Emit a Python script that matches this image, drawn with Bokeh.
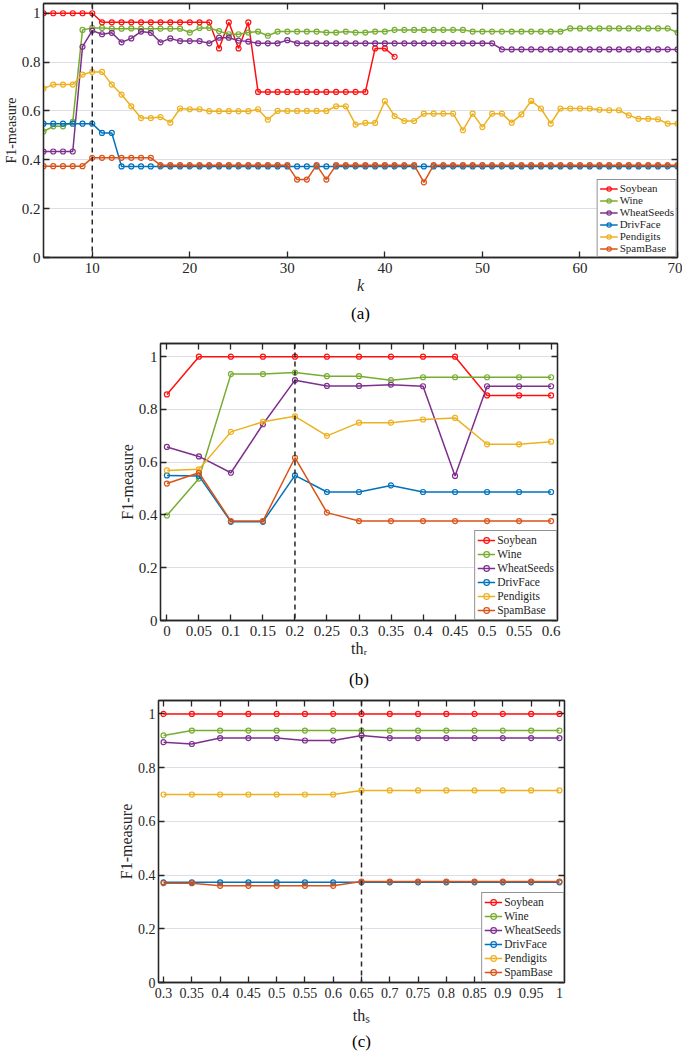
from bokeh.plotting import figure
from bokeh.models import Range1d, LinearAxis, FixedTicker, Span, Title
from bokeh.embed import file_html
from bokeh.resources import INLINE

FONT = "Liberation Serif"
AX = "#262626"

names = ["Soybean", "Wine", "WheatSeeds", "DrivFace", "Pendigits", "SpamBase"]
colors = ["#ff1010", "#77ac30", "#7e2f8e", "#0072bd", "#edb120", "#d95319"]

# ---------------- panel (a): F1 vs k ----------------
k = list(range(5, 71))
soy_a = [1.0, 1.0, 1.0, 1.0, 1.0, 1.0,
         0.963, 0.963, 0.963, 0.963, 0.963, 0.963, 0.963, 0.963, 0.963, 0.963, 0.963, 0.963,
         0.856, 0.963, 0.856, 0.963,
         0.678, 0.678, 0.678, 0.678, 0.678, 0.678, 0.678, 0.678, 0.678, 0.678, 0.678, 0.678,
         0.856, 0.856, 0.822]
wine_a = [0.516, 0.537, 0.537, 0.555, 0.932, 0.940, 0.940, 0.937, 0.937, 0.938,
          0.937, 0.937, 0.937, 0.937, 0.937, 0.921, 0.940, 0.940, 0.927, 0.914,
          0.914, 0.921, 0.925, 0.908, 0.925, 0.925, 0.925, 0.925, 0.925, 0.921,
          0.921, 0.925, 0.921, 0.921, 0.925, 0.925,
          0.932, 0.932, 0.932, 0.932, 0.932, 0.932, 0.932, 0.932,
          0.925, 0.925, 0.925, 0.925, 0.925, 0.925, 0.925, 0.925, 0.925, 0.925,
          0.938, 0.938, 0.938, 0.938, 0.938, 0.938, 0.938, 0.938, 0.938, 0.938, 0.938,
          0.921]
wheat_a = [0.434, 0.434, 0.434, 0.434, 0.863, 0.929, 0.914, 0.920, 0.881, 0.897,
           0.925, 0.920, 0.881, 0.897, 0.886, 0.886, 0.886, 0.877, 0.900, 0.900,
           0.888, 0.884, 0.877, 0.877, 0.877, 0.890,
           0.877, 0.877, 0.877, 0.877, 0.877, 0.877, 0.877, 0.877, 0.877, 0.877,
           0.877, 0.877, 0.877, 0.877, 0.877, 0.877, 0.877, 0.877, 0.877, 0.877, 0.877,
           0.852, 0.852, 0.852, 0.852, 0.852, 0.852, 0.852, 0.852, 0.852, 0.852,
           0.852, 0.852, 0.852, 0.852, 0.852, 0.852, 0.852, 0.852, 0.852]
driv_a = [0.548, 0.548, 0.548, 0.548, 0.548, 0.548, 0.510, 0.510,
          0.373, 0.373, 0.373, 0.373, 0.373, 0.373, 0.373, 0.373, 0.373, 0.373,
          0.373, 0.373, 0.373, 0.373, 0.373, 0.373, 0.373, 0.373, 0.373, 0.373,
          0.373, 0.373, 0.373, 0.373, 0.373, 0.373, 0.373, 0.373, 0.373, 0.373,
          0.373, 0.373, 0.373, 0.373, 0.373, 0.373, 0.373, 0.373, 0.373, 0.373,
          0.373, 0.373, 0.373, 0.373, 0.373, 0.373, 0.373, 0.373, 0.373, 0.373,
          0.373, 0.373, 0.373, 0.373, 0.373, 0.373, 0.373, 0.373]
pend_a = [0.692, 0.708, 0.708, 0.708, 0.749, 0.760, 0.760, 0.708, 0.667, 0.619,
          0.571, 0.571, 0.575, 0.552, 0.610, 0.607, 0.607, 0.599, 0.599, 0.599,
          0.599, 0.599, 0.607, 0.564, 0.600, 0.600, 0.600, 0.600, 0.600, 0.600,
          0.619, 0.619, 0.544, 0.551, 0.551, 0.640, 0.579, 0.559, 0.559, 0.589,
          0.589, 0.589, 0.589, 0.521, 0.589, 0.534, 0.589, 0.589, 0.552, 0.586,
          0.641, 0.610, 0.548, 0.610, 0.610, 0.610, 0.610, 0.605, 0.603, 0.603,
          0.582, 0.568, 0.568, 0.566, 0.548, 0.548]
spam_a = [0.374, 0.374, 0.374, 0.374, 0.374,
          0.408, 0.408, 0.408, 0.408, 0.408, 0.408, 0.408,
          0.378, 0.378, 0.378, 0.378, 0.378, 0.378, 0.378, 0.378, 0.378, 0.378,
          0.378, 0.378, 0.378, 0.378,
          0.319, 0.319, 0.378, 0.319,
          0.378, 0.378, 0.378, 0.378, 0.378, 0.378, 0.378, 0.378, 0.378,
          0.308,
          0.378, 0.378, 0.378, 0.378, 0.378, 0.378, 0.378, 0.378, 0.378, 0.378,
          0.378, 0.378, 0.378, 0.378, 0.378, 0.378, 0.378, 0.378, 0.378, 0.378,
          0.378, 0.378, 0.378, 0.378, 0.378, 0.378]
ticks_a = [10, 20, 30, 40, 50, 60, 70]
labels_a = ["10", "20", "30", "40", "50", "60", "70"]

# ---------------- panel (b): F1 vs th_r ----------------
thr = [0, 0.05, 0.1, 0.15, 0.2, 0.25, 0.3, 0.35, 0.4, 0.45, 0.5, 0.55, 0.6]
thr_labels = ["0", "0.05", "0.1", "0.15", "0.2", "0.25", "0.3", "0.35", "0.4", "0.45", "0.5", "0.55", "0.6"]
soy_b = [0.857, 1, 1, 1, 1, 1, 1, 1, 1, 1, 0.853, 0.853, 0.853]
wine_b = [0.398, 0.538, 0.934, 0.934, 0.940, 0.926, 0.926, 0.911, 0.922, 0.922, 0.922, 0.922, 0.922]
wheat_b = [0.658, 0.622, 0.560, 0.744, 0.911, 0.889, 0.889, 0.894, 0.888, 0.548, 0.888, 0.888, 0.888]
driv_b = [0.550, 0.548, 0.374, 0.374, 0.550, 0.487, 0.487, 0.512, 0.487, 0.487, 0.487, 0.487, 0.487]
pend_b = [0.569, 0.573, 0.715, 0.753, 0.774, 0.700, 0.750, 0.750, 0.762, 0.768, 0.668, 0.668, 0.678]
spam_b = [0.519, 0.560, 0.377, 0.377, 0.617, 0.409, 0.377, 0.377, 0.377, 0.377, 0.377, 0.377, 0.377]

# ---------------- panel (c): F1 vs th_s ----------------
ths = [0.3, 0.35, 0.4, 0.45, 0.5, 0.55, 0.6, 0.65, 0.7, 0.75, 0.8, 0.85, 0.9, 0.95, 1]
ths_labels = ["0.3", "0.35", "0.4", "0.45", "0.5", "0.55", "0.6", "0.65", "0.7", "0.75", "0.8", "0.85", "0.9", "0.95", "1"]
soy_c = [1, 1, 1, 1, 1, 1, 1, 1, 1, 1, 1, 1, 1, 1, 1]
wine_c = [0.920, 0.938, 0.938, 0.938, 0.938, 0.938, 0.938, 0.938, 0.938, 0.938, 0.938, 0.938, 0.938, 0.938, 0.938]
wheat_c = [0.895, 0.888, 0.910, 0.910, 0.910, 0.901, 0.901, 0.920, 0.910, 0.910, 0.910, 0.910, 0.910, 0.910, 0.910]
driv_c = [0.373, 0.373, 0.373, 0.373, 0.373, 0.373, 0.373, 0.373, 0.373, 0.373, 0.373, 0.373, 0.373, 0.373, 0.373]
pend_c = [0.700, 0.700, 0.700, 0.700, 0.700, 0.700, 0.700, 0.715, 0.715, 0.715, 0.715, 0.715, 0.715, 0.715, 0.715]
spam_c = [0.370, 0.370, 0.360, 0.360, 0.360, 0.360, 0.360, 0.376, 0.376, 0.376, 0.376, 0.376, 0.376, 0.376, 0.376]

y_ticks = [0, 0.2, 0.4, 0.6, 0.8, 1]
y_labels = ["0", "0.2", "0.4", "0.6", "0.8", "1"]


def style_axis(ax, ticks, labels, fs, hidden=False):
    ax.ticker = FixedTicker(ticks=ticks)
    ax.axis_line_color = AX
    ax.axis_line_width = 1.3
    ax.major_tick_line_color = AX
    ax.major_tick_line_width = 1.3
    ax.major_tick_in = 6
    ax.major_tick_out = 0
    ax.minor_tick_line_color = None
    if hidden:
        ax.major_label_text_font_size = "0px"
        ax.major_label_standoff = 0
        ax.major_label_overrides = {t: "" for t in ticks}
    else:
        ax.major_label_overrides = dict(zip(ticks, labels))
        ax.major_label_text_font = FONT
        ax.major_label_text_font_size = fs
        ax.major_label_text_color = AX


def make_panel(xr, yr, fw, fh, bl, br, bt, bb, xticks, xlabels, tick_fs,
               xlabel, xlabel_style, xlabel_standoff, ylabel_fs, caption, cap_standoff,
               xs_list, ys_list, span_loc, legend_fs, legend_row):
    p = figure(frame_width=fw, frame_height=fh, x_range=Range1d(*xr), y_range=Range1d(*yr),
               output_backend="svg", toolbar_location=None,
               min_border_left=bl, min_border_right=br, min_border_top=bt, min_border_bottom=bb)
    p.background_fill_color = "white"
    p.border_fill_color = "white"
    p.outline_line_color = AX
    p.outline_line_width = 1.3
    p.xgrid.grid_line_color = None
    p.ygrid.grid_line_color = "#dedee8"
    p.ygrid.grid_line_width = 1.2

    style_axis(p.xaxis[0], xticks, xlabels, tick_fs)
    style_axis(p.yaxis[0], y_ticks, y_labels, tick_fs)
    p.xaxis.major_label_standoff = 5
    p.yaxis.major_label_standoff = 3
    p.xaxis.axis_label = xlabel
    p.xaxis.axis_label_text_font = FONT
    p.xaxis.axis_label_text_font_size = "16px"
    p.xaxis.axis_label_text_font_style = xlabel_style
    p.xaxis.axis_label_text_color = AX
    p.xaxis.axis_label_standoff = xlabel_standoff
    p.yaxis.axis_label = "F1-measure"
    p.yaxis.axis_label_text_font = FONT
    p.yaxis.axis_label_text_font_size = ylabel_fs
    p.yaxis.axis_label_text_font_style = "normal"
    p.yaxis.axis_label_text_color = AX
    p.yaxis.axis_label_standoff = 0

    top = LinearAxis()
    style_axis(top, xticks, xlabels, tick_fs, hidden=True)
    p.add_layout(top, "above")
    right = LinearAxis()
    style_axis(right, y_ticks, y_labels, tick_fs, hidden=True)
    p.add_layout(right, "right")

    for name, c, xs, ys in zip(names, colors, xs_list, ys_list):
        p.line(xs, ys, line_color=c, line_width=1.5, legend_label=name)
        p.scatter(xs, ys, marker="circle", size=5, line_color=c, fill_color=None,
                  line_width=1.2, legend_label=name)

    p.add_layout(Span(location=span_loc, dimension="height", line_color=AX,
                      line_dash="5 4", line_width=1.5))

    lg = p.legend[0]
    lg.location = "bottom_right"
    lg.margin = 0
    lg.padding = 2
    lg.spacing = 0
    lg.label_text_font = FONT
    lg.label_text_font_size = legend_fs
    lg.label_text_color = AX
    lg.label_height = legend_row
    lg.glyph_height = legend_row
    lg.glyph_width = 18
    lg.label_standoff = 2
    lg.border_line_color = AX
    lg.border_line_width = 1.2
    lg.background_fill_color = "white"
    lg.background_fill_alpha = 1

    p.add_layout(Title(text=caption, align="center", text_font=FONT, text_font_size="17px",
                       text_font_style="normal", text_color="black", standoff=cap_standoff), "below")
    return p


pa = make_panel((5, 70), (0, 1.04), 634, 254, 42, 5, 3, 73, ticks_a, labels_a, "15px",
                "k", "italic", 1, "14px", "(a)", 10,
                [k[:len(soy_a)], k, k, k, k, k],
                [soy_a, wine_a, wheat_a, driv_a, pend_a, spam_a], 10, "11px", 11)

pb = make_panel((-0.01, 0.61), (0, 1.05), 397, 277, 160, 6, 13, 74, thr, thr_labels, "15px",
                "th\u1d63", "normal", 1, "16px", "(b)", 17,
                [thr] * 6,
                [soy_b, wine_b, wheat_b, driv_b, pend_b, spam_b], 0.2, "11.5px", 14)

pc = make_panel((0.291, 1.009), (0, 1.05), 406, 282, 158, 6, 3, 69, ths, ths_labels, "14px",
                "th\u209b", "normal", 6, "16px", "(c)", 6,
                [ths] * 6,
                [soy_c, wine_c, wheat_c, driv_c, pend_c, spam_c], 0.65, "11.5px", 14)

open("out.html", "w").write(file_html([pa, pb, pc], INLINE))
